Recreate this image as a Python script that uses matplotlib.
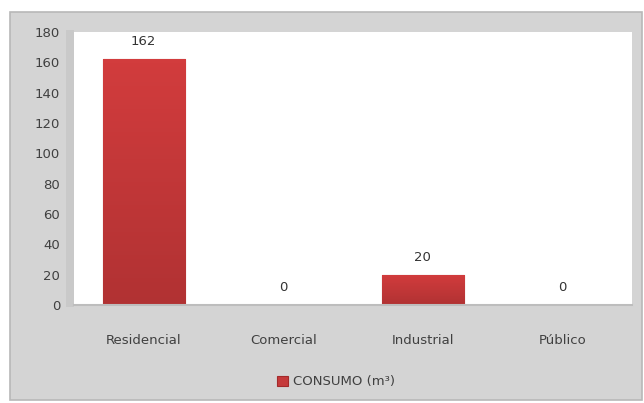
import matplotlib
matplotlib.use("Agg")
import matplotlib.pyplot as plt
import numpy as np
from matplotlib.patches import Rectangle
from matplotlib.colors import LinearSegmentedColormap

categorias = ["Residencial", "Comercial", "Industrial", "Público"]
consumo = [162, 0, 20, 0]
yticks = [0, 20, 40, 60, 80, 100, 120, 140, 160, 180]
serie = "CONSUMO (m³)"

W, H = 644, 403
fig = plt.figure(figsize=(W / 100, H / 100), dpi=100)
fig.patch.set_facecolor("white")

# grey chart frame drawn on a background axes
bg = fig.add_axes([0, 0, 1, 1], zorder=-1)
bg.set_xlim(0, W)
bg.set_ylim(H, 0)
bg.axis("off")
bg.add_patch(Rectangle((10, 12), 632, 388, facecolor="#d4d4d4",
                       edgecolor="#b8b8b8", linewidth=1.2))
bg.add_patch(Rectangle((66, 30), 8, 277, facecolor="#c9c9c9", edgecolor="none"))

ax = fig.add_axes([74 / W, 1 - 305 / H, 558 / W, 273 / H])
ax.set_facecolor("white")
x = list(range(len(categorias)))
bars = ax.bar(x, consumo, width=0.59, color="#c53a3b", edgecolor="#a32a2b",
              linewidth=0.8, zorder=2)

# vertical shading inside each bar
grad = LinearSegmentedColormap.from_list("barshade", ["#b13233", "#d23c3d"])
for b in bars:
    if b.get_height() > 0:
        x0, w, h = b.get_x(), b.get_width(), b.get_height()
        im = ax.imshow(np.linspace(0, 1, 64).reshape(-1, 1), cmap=grad,
                       extent=(x0, x0 + w, 0, h), origin="lower",
                       aspect="auto", zorder=2.5)
        im.set_clip_path(b)

for xi, v in zip(x, consumo):
    ax.annotate(str(v), (xi, v), xytext=(0, 8), textcoords="offset points",
                ha="center", va="bottom", fontsize=9.5, color="#333333")

ax.set_xlim(-0.5, len(categorias) - 0.5)
ax.set_ylim(0, 180)
ax.set_yticks(yticks)
ax.set_yticklabels([str(t) for t in yticks], fontsize=9.5, color="#404040")
ax.set_xticks(x)
ax.set_xticklabels(categorias, fontsize=9.5, color="#404040")
ax.tick_params(axis="y", length=0, pad=10)
ax.tick_params(axis="x", length=0, pad=21)
for s in ["top", "right", "left"]:
    ax.spines[s].set_visible(False)
ax.spines["bottom"].set_color("#bdbdbd")
ax.spines["bottom"].set_linewidth(1.5)

leg = fig.legend([bars[0]], [serie], loc="center", bbox_to_anchor=(336 / W, 1 - 382 / H),
                 frameon=False, fontsize=9.5, handlelength=0.8, handleheight=0.8,
                 handletextpad=0.4)
for t in leg.get_texts():
    t.set_color("#404040")

fig.savefig("out.png", dpi=100, facecolor=fig.get_facecolor())
